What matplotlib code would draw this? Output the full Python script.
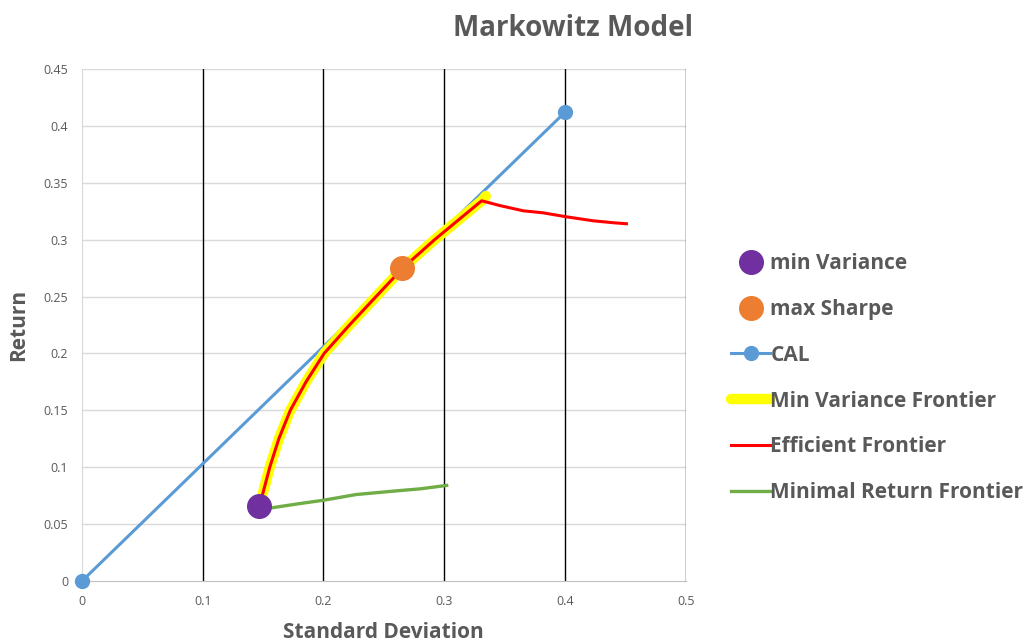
import matplotlib
matplotlib.use('Agg')
import matplotlib.pyplot as plt
from matplotlib.lines import Line2D

plt.rcParams['font.family'] = ['Open Sans', 'DejaVu Sans']

# Portfolio points
min_var = (0.147, 0.066)
max_sharpe = (0.265, 0.275)

# Capital allocation line
cal_x = [0.0, 0.4]
cal_y = [0.0, 0.412]

# Upper branch shared by both frontiers
upper_x = [0.147, 0.1505, 0.1555, 0.163, 0.1725, 0.1855, 0.2005, 0.2215, 0.2435,
           0.2656, 0.292, 0.331]
upper_y = [0.066, 0.080, 0.100, 0.125, 0.150, 0.175, 0.200, 0.225, 0.250,
           0.275, 0.300, 0.3342]

# Minimum variance frontier runs a bit past the kink
mvf_x = upper_x + [0.3344]
mvf_y = upper_y + [0.3383]

# Efficient frontier bends back down after the kink
ef_x = upper_x + [0.346, 0.3653, 0.3819, 0.4012, 0.4233, 0.4399, 0.4509]
ef_y = upper_y + [0.330, 0.3254, 0.3236, 0.3201, 0.3166, 0.3149, 0.3140]

# Minimal return frontier (lower branch)
mrf_x = [0.147, 0.155, 0.180, 0.200, 0.227, 0.258, 0.280, 0.302]
mrf_y = [0.063, 0.064, 0.068, 0.071, 0.076, 0.079, 0.081, 0.084]

x_ticks = [0, 0.1, 0.2, 0.3, 0.4, 0.5]
y_ticks = [0, 0.05, 0.1, 0.15, 0.2, 0.25, 0.3, 0.35, 0.4, 0.45]
x_labels = ['0', '0.1', '0.2', '0.3', '0.4', '0.5']
y_labels = ['0', '0.05', '0.1', '0.15', '0.2', '0.25', '0.3', '0.35', '0.4', '0.45']

text_col = '#595959'
purple = '#7030A0'
orange = '#ED7D31'
blue = '#5B9BD5'
yellow = '#FFFF00'
red = '#FF0000'
green = '#70AD47'

fig = plt.figure(figsize=(10.25, 6.42), dpi=100)
ax = fig.add_axes([0.08, 0.095, 0.589, 0.7975])

ax.plot(cal_x, cal_y, color=blue, lw=2.2, marker='o', ms=10, zorder=3, clip_on=False)
ax.plot(mvf_x, mvf_y, color=yellow, lw=7.5, solid_capstyle='round',
        solid_joinstyle='round', zorder=4)
ax.plot(ef_x, ef_y, color=red, lw=2.2, solid_joinstyle='round', zorder=5)
ax.plot(mrf_x, mrf_y, color=green, lw=2.4, zorder=5)
ax.plot(*min_var, 'o', color=purple, ms=17, zorder=6, clip_on=False)
ax.plot(*max_sharpe, 'o', color=orange, ms=17, zorder=6, clip_on=False)

ax.set_xlim(0, 0.5)
ax.set_ylim(0, 0.45)
ax.set_xticks(x_ticks)
ax.set_xticklabels(x_labels)
ax.set_yticks(y_ticks)
ax.set_yticklabels(y_labels)
ax.tick_params(length=0, labelsize=9, labelcolor=text_col, pad=10)

# gridlines: grey horizontals, black verticals
for y in y_ticks[1:]:
    ax.axhline(y, color='#D9D9D9', lw=1, zorder=0)
for x in x_ticks[1:]:
    ax.axvline(x, color='black', lw=1, zorder=1)
for s in ['top', 'right']:
    ax.spines[s].set_visible(False)
ax.spines['left'].set_color('#D9D9D9')
ax.spines['bottom'].set_color('#BFBFBF')

ax.set_xlabel('Standard Deviation', fontsize=15, fontweight='bold', color=text_col, labelpad=10)
ax.set_ylabel('Return', fontsize=15, fontweight='bold', color=text_col, labelpad=10)
fig.text(0.559, 0.955, 'Markowitz Model', ha='center', va='center',
         fontsize=20, fontweight='bold', color=text_col)

handles = [
    Line2D([], [], ls='none', marker='o', color=purple, ms=17),
    Line2D([], [], ls='none', marker='o', color=orange, ms=17),
    Line2D([], [], color=blue, lw=2.2, marker='o', ms=10),
    Line2D([], [], color=yellow, lw=7.5, solid_capstyle='round'),
    Line2D([], [], color=red, lw=2.2),
    Line2D([], [], color=green, lw=2.4),
]
labels = ['min Variance', 'max Sharpe', 'CAL', 'Min Variance Frontier',
          'Efficient Frontier', 'Minimal Return Frontier']
leg = fig.legend(handles, labels, loc='center left', bbox_to_anchor=(0.713, 0.411),
                 frameon=False, handlelength=1.9, handletextpad=0.0,
                 borderpad=0, borderaxespad=0,
                 labelspacing=1.19, prop={'size': 15, 'weight': 'bold'})
for t in leg.get_texts():
    t.set_color(text_col)

fig.savefig('out.png', dpi=100)
